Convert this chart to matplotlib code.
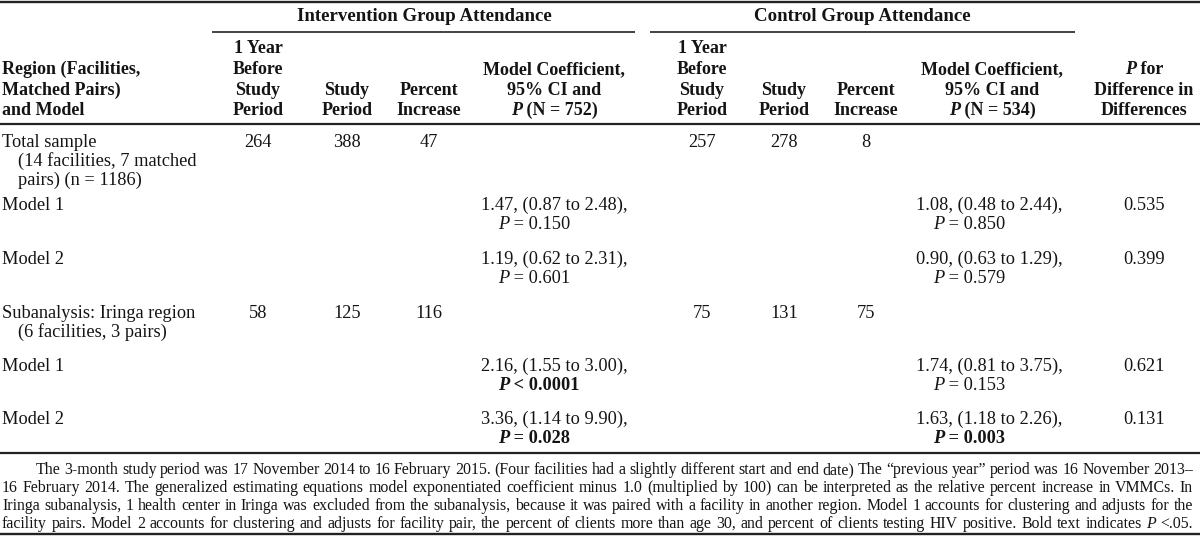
import matplotlib
matplotlib.use("Agg")
import matplotlib.pyplot as plt

# ---------------- data ----------------
group_titles = ["Intervention Group Attendance", "Control Group Attendance"]
stub_header = ["Region (Facilities,", "Matched Pairs)", "and Model"]
before_header = ["1 Year", "Before", "Study", "Period"]
study_header = ["Study", "Period"]
pct_header = ["Percent", "Increase"]
coef_header = ["Model Coefficient,", "95% CI and"]
n_int = 752
n_ctl = 534
pdiff_header = ["for", "Difference in", "Differences"]

row_labels = [["Total sample", "(14 facilities, 7 matched", "pairs) (n = 1186)"],
              ["Model 1"], ["Model 2"],
              ["Subanalysis: Iringa region", "(6 facilities, 3 pairs)"],
              ["Model 1"], ["Model 2"]]
int_before = [264, None, None, 58, None, None]
int_study = [388, None, None, 125, None, None]
int_pct = [47, None, None, 116, None, None]
ctl_before = [257, None, None, 75, None, None]
ctl_study = [278, None, None, 131, None, None]
ctl_pct = [8, None, None, 75, None, None]
int_coef = [None, "1.47, (0.87 to 2.48),", "1.19, (0.62 to 2.31),", None,
            "2.16, (1.55 to 3.00),", "3.36, (1.14 to 9.90),"]
int_p = [None, "= 0.150", "= 0.601", None, "< 0.0001", "= 0.028"]
int_p_bold = [False, False, False, False, True, True]
ctl_coef = [None, "1.08, (0.48 to 2.44),", "0.90, (0.63 to 1.29),", None,
            "1.74, (0.81 to 3.75),", "1.63, (1.18 to 2.26),"]
ctl_p = [None, "= 0.850", "= 0.579", None, "= 0.153", "= 0.003"]
ctl_p_bold = [False, False, False, False, False, True]
p_diff = [None, "0.535", "0.399", None, "0.621", "0.131"]

footnote_lines = [
    "The 3-month study period was 17 November 2014 to 16 February 2015. (Four facilities had a slightly different start and end date) The \u201cprevious year\u201d period was 16 November 2013\u2013",
    "16 February 2014. The generalized estimating equations model exponentiated coefficient minus 1.0 (multiplied by 100) can be interpreted as the relative percent increase in VMMCs. In",
    "Iringa subanalysis, 1 health center in Iringa was excluded from the subanalysis, because it was paired with a facility in another region. Model 1 accounts for clustering and adjusts for the",
    "facility pairs. Model 2 accounts for clustering and adjusts for facility pair, the percent of clients more than age 30, and percent of clients testing HIV positive. Bold text indicates *P* <.05.",
]

# ---------------- layout ----------------
W, H = 1200, 536
fig = plt.figure(figsize=(W / 100, H / 100), dpi=100)
ax = fig.add_axes([0, 0, 1, 1])
ax.set_xlim(0, W)
ax.set_ylim(H, 0)
ax.axis("off")
renderer = fig.canvas.get_renderer()

FONT = "Liberation Serif"
BODY = 13.2
HEAD = 13.0
TITLE = 13.6
FOOT = 11.4
INK = "#141414"

def measure(s, style="normal", weight="normal", size=BODY):
    t1 = ax.text(0, 0, "|" + s + "|", family=FONT, style=style, weight=weight, fontsize=size)
    t2 = ax.text(0, 0, "||", family=FONT, style=style, weight=weight, fontsize=size)
    w = t1.get_window_extent(renderer).width - t2.get_window_extent(renderer).width
    t1.remove(); t2.remove()
    return w

def put(x, base, s, **kw):
    ax.text(x, round(base), s, family=FONT, va="baseline", color=INK, **kw)

def rich(x, yc, segs, ha="left", size=BODY, bl=6):
    """segs: list of (text, style, weight)"""
    widths = [measure(s, st, wt, size) for s, st, wt in segs]
    total = sum(widths)
    if ha == "center":
        x0 = x - total / 2
    elif ha == "right":
        x0 = x - total
    else:
        x0 = x
    for (s, st, wt), w in zip(segs, widths):
        put(x0, yc + bl, s, style=st, weight=wt, fontsize=size, ha="left")
        x0 += w

def txt(x, yc, s, ha="center", weight="normal", style="normal", size=BODY, bl=6):
    put(x, yc + bl, s, weight=weight, style=style, fontsize=size, ha=ha)

def hline(x0, x1, y, lw):
    ax.plot([x0, x1], [y, y], color="#222222", lw=lw, solid_capstyle="butt")

# column geometry
X_STUB = 2
X_STUB_IND = 18
C_INT = [258, 347, 429]
C_INT_COEF = 554
X_INT_COEF = 481
C_CTL = [702, 784, 866]
C_CTL_COEF = 992
X_CTL_COEF = 916
C_PDIFF = 1144
P_IND = 17

# rules
hline(0, W, 1.5, 1.7)
hline(212, 635, 32, 1.2)
hline(650, 1075, 32, 1.2)
hline(0, W, 124, 1.6)
hline(0, W, 453, 1.6)
hline(0, W, 534, 1.7)

# group titles
txt(424, 15, group_titles[0], weight="bold", size=TITLE)
txt(862, 15, group_titles[1], weight="bold", size=TITLE)

HL = [47, 68, 89, 109]
for i, s in enumerate(stub_header):
    txt(X_STUB, HL[i + 1], s, ha="left", weight="bold", size=HEAD)
for cset in (C_INT, C_CTL):
    for i, s in enumerate(before_header):
        txt(cset[0], HL[i], s, weight="bold", size=HEAD)
    for i, s in enumerate(study_header):
        txt(cset[1], HL[i + 2], s, weight="bold", size=HEAD)
    for i, s in enumerate(pct_header):
        txt(cset[2], HL[i + 2], s, weight="bold", size=HEAD)
for cx, n in ((C_INT_COEF, n_int), (C_CTL_COEF, n_ctl)):
    txt(cx, HL[1], coef_header[0], weight="bold", size=HEAD)
    txt(cx, HL[2], coef_header[1], weight="bold", size=HEAD)
    rich(cx, HL[3], [("P", "italic", "bold"), (" (N = %d)" % n, "normal", "bold")],
         ha="center", size=HEAD)
rich(C_PDIFF, HL[1], [("P", "italic", "bold"), (" " + pdiff_header[0], "normal", "bold")],
     ha="center", size=HEAD)
txt(C_PDIFF, HL[2], pdiff_header[1], weight="bold", size=HEAD)
txt(C_PDIFF, HL[3], pdiff_header[2], weight="bold", size=HEAD)

# body rows
ROW_Y = [141, 204, 258, 312, 365, 418]
LS = 19.2
for r, y in enumerate(ROW_Y):
    for k, s in enumerate(row_labels[r]):
        txt(X_STUB if k == 0 else X_STUB_IND, y + k * LS, s, ha="left")
    for vals, cx in ((int_before, C_INT[0]), (int_study, C_INT[1]), (int_pct, C_INT[2]),
                     (ctl_before, C_CTL[0]), (ctl_study, C_CTL[1]), (ctl_pct, C_CTL[2])):
        if vals[r] is not None:
            txt(cx, y, str(vals[r]))
    for coef, pv, pb, x in ((int_coef, int_p, int_p_bold, X_INT_COEF),
                            (ctl_coef, ctl_p, ctl_p_bold, X_CTL_COEF)):
        if coef[r] is not None:
            txt(x, y, coef[r], ha="left")
            wt = "bold" if pb[r] else "normal"
            rich(x + P_IND, y + LS, [("P", "italic", wt), (" " + pv[r], "normal", wt)])
    if p_diff[r] is not None:
        txt(C_PDIFF, y, p_diff[r])

# footnote (justified word by word)
FN_Y = [469, 487, 505, 523]
FN_X0 = [36, 2, 2, 2]
FN_X1 = 1193
for line, y, x0 in zip(footnote_lines, FN_Y, FN_X0):
    words = line.split(" ")
    items = []
    for w in words:
        if w.startswith("*P*"):
            items.append([("P", "italic"), (w[3:], "normal")])
        else:
            items.append([(w, "normal")])
    wlens = [sum(measure(s, st, "normal", FOOT) for s, st in it) for it in items]
    space = measure(" ", "normal", "normal", FOOT)
    natural = sum(wlens) + space * (len(items) - 1)
    gap = space + (FN_X1 - x0 - natural) / (len(items) - 1)
    x = x0
    for it, wl in zip(items, wlens):
        xx = x
        for s, st in it:
            put(xx, y + 5, s, style=st, fontsize=FOOT, ha="left")
            xx += measure(s, st, "normal", FOOT)
        x += wl + gap

fig.savefig("out.png", dpi=100)
